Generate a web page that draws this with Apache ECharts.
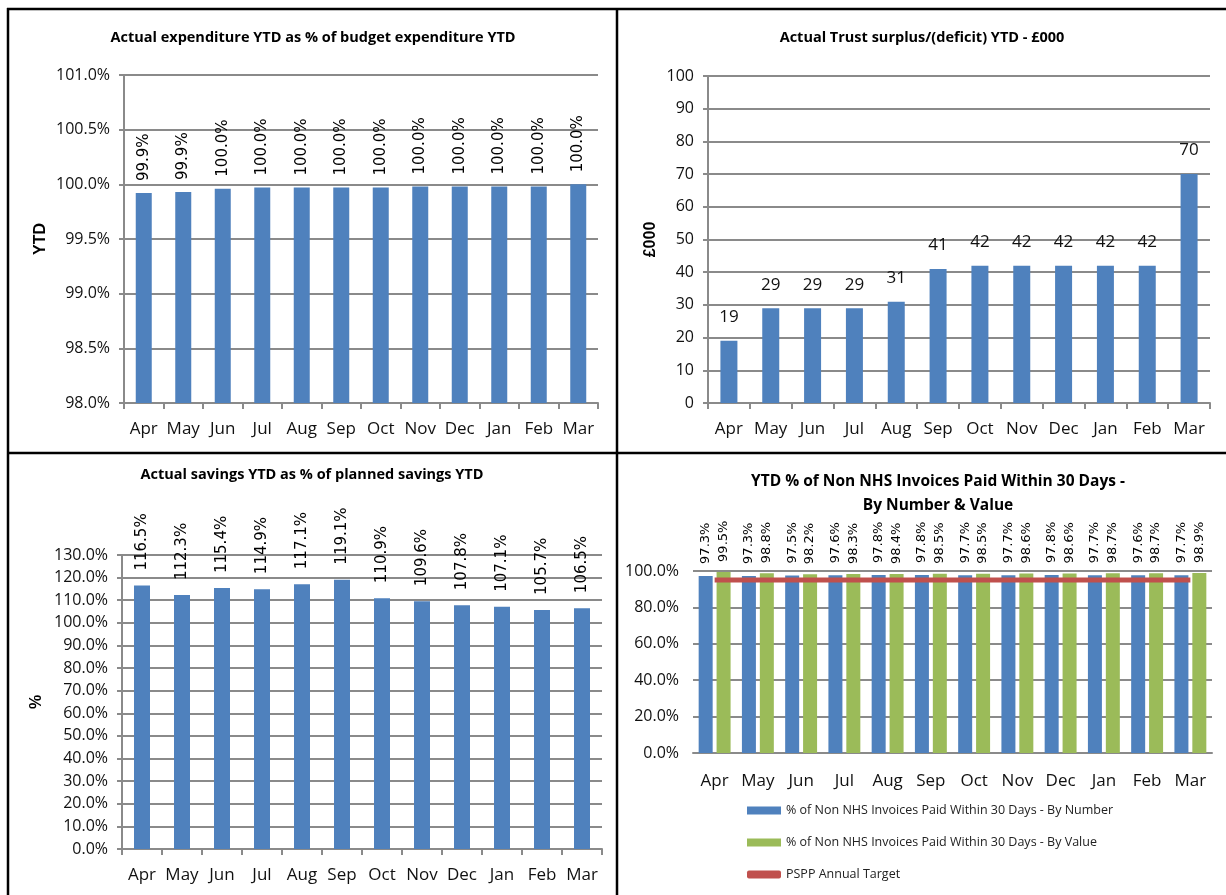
<!DOCTYPE html>
<html>
<head>
<meta charset="utf-8">
<script src="https://cdn.jsdelivr.net/npm/echarts@6/dist/echarts.min.js"></script>
<style>
html,body{margin:0;padding:0;background:#fff;}
#c{width:1226px;height:895px;}
</style>
</head>
<body>
<div id="c"></div>
<script>
var months = ['Apr','May','Jun','Jul','Aug','Sep','Oct','Nov','Dec','Jan','Feb','Mar'];
var expenditurePct = [99.92,99.93,99.96,99.97,99.97,99.97,99.97,99.98,99.98,99.98,99.98,100.0];
var surplus = [19,29,29,29,31,41,42,42,42,42,42,70];
var savingsPct = [116.5,112.3,115.4,114.9,117.1,119.1,110.9,109.6,107.8,107.1,105.7,106.5];
var invByNumber = [97.3,97.3,97.5,97.6,97.8,97.8,97.7,97.7,97.8,97.7,97.6,97.7];
var invByValue = [99.5,98.8,98.2,98.3,98.4,98.5,98.5,98.6,98.6,98.7,98.7,98.9];
var psppTarget = [95,95,95,95,95,95,95,95,95,95,95,95];

var NARROW = "'Liberation Sans Narrow','Open Sans',sans-serif";
var WIDE = "'DejaVu Sans',Verdana,sans-serif";
var GRID = '#8a8a8a';
var BLUE = '#4F81BD', GREEN = '#9BBB59', RED = '#C0504D';

function pct1(v){ return v.toFixed(1) + '%'; }

function xAx(gi, opts){
  opts = opts || {};
  return {
    type:'category', gridIndex:gi, data:months,
    axisLine:{show:true, lineStyle:{color:GRID, width:2}},
    axisTick:{show: opts.tick !== false, alignWithLabel:false, length:6, inside:false, lineStyle:{color:GRID, width:2}},
    axisLabel:{color:'#111', fontFamily:NARROW, fontSize:17, margin:opts.margin || 18, interval:0}
  };
}
function yAx(gi, min, max, interval, fmt, name, nameGap, axisLineShow){
  return {
    type:'value', gridIndex:gi, min:min, max:max, interval:interval,
    name:name, nameLocation:'middle', nameGap:nameGap, nameRotate:90,
    nameTextStyle:{fontFamily:"'Liberation Sans', Arial, sans-serif", fontWeight:'bold', fontSize:16, color:'#000'},
    axisLine:{show:axisLineShow, lineStyle:{color:GRID, width:2}},
    axisTick:{show:axisLineShow, length:5, lineStyle:{color:GRID, width:2}},
    splitLine:{show:true, lineStyle:{color:GRID, width:2}},
    axisLabel:{color:'#111', fontFamily:NARROW, fontSize:16, margin:14, formatter:fmt}
  };
}
function rotLabel(size, dist){
  return {show:true, position:'top', rotate:90, align:'left', verticalAlign:'middle', distance:dist,
    fontFamily:WIDE, fontSize:size, color:'#000', formatter:function(p){return pct1(p.value);}};
}

var titleStyle = {fontFamily:NARROW, fontWeight:'bold', fontSize:14.5, color:'#000', lineHeight:24};
var titleStyle4 = {fontFamily:NARROW, fontWeight:'bold', fontSize:15.5, color:'#000', lineHeight:24};

var option = {
  animation:false,
  backgroundColor:'#fff',
  title:[
    {text:'Actual expenditure YTD as % of budget expenditure YTD', left:308, top:21, textAlign:'center', textStyle:titleStyle},
    {text:'Actual Trust surplus/(deficit) YTD - £000', left:917, top:21, textAlign:'center', textStyle:titleStyle},
    {text:'Actual savings YTD as % of planned savings YTD', left:307, top:458, textAlign:'center', textStyle:titleStyle},
    {text:'YTD % of Non NHS Invoices Paid Within 30 Days -\nBy Number & Value', left:933, top:465, textAlign:'center', textStyle:titleStyle4}
  ],
  grid:[
    {left:124, top:75, width:474, height:328},
    {left:708, top:76, width:502, height:327},
    {left:122, top:555, width:480, height:294},
    {left:693, top:571, width:519, height:182}
  ],
  legend:{
    orient:'vertical', left:742, top:799, itemWidth:34, itemHeight:8, itemGap:19,
    textStyle:{fontFamily:NARROW, fontSize:12.5, color:'#222'},
    data:[
      {name:'% of Non NHS Invoices Paid Within 30 Days - By Number', icon:'rect'},
      {name:'% of Non NHS Invoices Paid Within 30 Days - By Value', icon:'rect'},
      {name:'PSPP Annual Target', icon:'roundRect'}
    ]
  },
  xAxis:[ xAx(0), xAx(1), xAx(2), xAx(3,{tick:false, margin:20}) ],
  yAxis:[
    yAx(0, 98, 101, 0.5, function(v){return pct1(v);}, 'YTD', 75, true),
    yAx(1, 0, 100, 10, function(v){return String(v);}, '£000', 49, true),
    yAx(2, 0, 130, 10, function(v){return pct1(v);}, '%', 77, true),
    yAx(3, 0, 100, 20, function(v){return pct1(v);}, '', 0, false)
  ],
  series:[
    {type:'bar', xAxisIndex:0, yAxisIndex:0, data:expenditurePct, barWidth:16, itemStyle:{color:BLUE},
      label:rotLabel(15, 12)},
    {type:'bar', xAxisIndex:1, yAxisIndex:1, data:surplus, barWidth:17, itemStyle:{color:BLUE},
      label:{show:true, position:'top', distance:15, fontFamily:NARROW, fontSize:17, color:'#111'}},
    {type:'bar', xAxisIndex:2, yAxisIndex:2, data:savingsPct, barWidth:16, itemStyle:{color:BLUE},
      label:rotLabel(15, 15)},
    {name:'% of Non NHS Invoices Paid Within 30 Days - By Number', type:'bar', xAxisIndex:3, yAxisIndex:3,
      data:invByNumber, barWidth:14, barGap:'28%', itemStyle:{color:BLUE}, label:rotLabel(13, 12)},
    {name:'% of Non NHS Invoices Paid Within 30 Days - By Value', type:'bar', xAxisIndex:3, yAxisIndex:3,
      data:invByValue, barWidth:14, barGap:'28%', itemStyle:{color:GREEN}, label:rotLabel(13, 10)},
    {name:'PSPP Annual Target', type:'line', xAxisIndex:3, yAxisIndex:3, data:psppTarget,
      symbol:'none', lineStyle:{color:RED, width:5}, itemStyle:{color:RED}, z:5}
  ],
  graphic:[
    {type:'line', shape:{x1:7, y1:9, x2:1226, y2:9}, style:{stroke:'#000', lineWidth:2.5}},
    {type:'line', shape:{x1:8, y1:8, x2:8, y2:895}, style:{stroke:'#000', lineWidth:2.5}},
    {type:'line', shape:{x1:617, y1:8, x2:617, y2:895}, style:{stroke:'#000', lineWidth:2.5}},
    {type:'line', shape:{x1:7, y1:453, x2:1226, y2:453}, style:{stroke:'#000', lineWidth:2.5}}
  ]
};
var chart = echarts.init(document.getElementById('c'));
chart.setOption(option);
</script>
</body>
</html>
